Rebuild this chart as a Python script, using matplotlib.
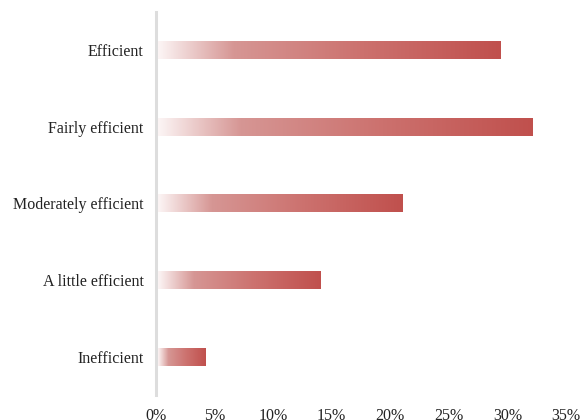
import numpy as np
import matplotlib.pyplot as plt
from matplotlib.colors import LinearSegmentedColormap

# kategoriler ve degerler (yuzde)
categories = ["Efficient", "Fairly efficient", "Moderately efficient",
              "A little efficient", "Inefficient"]
values = [29.4, 32.1, 21.0, 14.0, 4.2]
xticks = [0, 5, 10, 15, 20, 25, 30, 35]
xtick_labels = ["0%", "5%", "10%", "15%", "20%", "25%", "30%", "35%"]

plt.rcParams['font.family'] = ['Liberation Serif', 'DejaVu Serif']

# beyazdan kirmiziya gecis
cmap = LinearSegmentedColormap.from_list(
    "fade", [(0.0, "#fcf5f5"), (0.22, "#d69694"), (0.6, "#cc716e"), (1.0, "#c0504d")])
grad = np.linspace(0, 1, 256).reshape(1, -1)

fig = plt.figure(figsize=(5.82, 4.2), dpi=100)
ax = fig.add_axes([0.268, 0.0595, 0.7045, 0.912])

bar_h = 0.23
for i, v in enumerate(values):
    y = len(values) - 1 - i
    ax.imshow(grad, cmap=cmap, aspect='auto', interpolation='bilinear',
              extent=[0.15, v, y - bar_h / 2, y + bar_h / 2])

ax.set_xlim(0, 35)
ax.set_ylim(-0.5, len(values) - 0.5)
ax.set_yticks(range(len(values)))
ax.set_yticklabels(categories[::-1])
ax.set_xticks(xticks)
ax.set_xticklabels(xtick_labels)
ax.tick_params(axis='both', length=0, labelsize=11.5, colors='#222222')
ax.tick_params(axis='y', pad=9)
ax.tick_params(axis='x', pad=9)

for s in ['top', 'right', 'bottom']:
    ax.spines[s].set_visible(False)
ax.spines['left'].set_color('#dddddd')
ax.spines['left'].set_linewidth(2.2)

fig.savefig("out.png", dpi=100)
